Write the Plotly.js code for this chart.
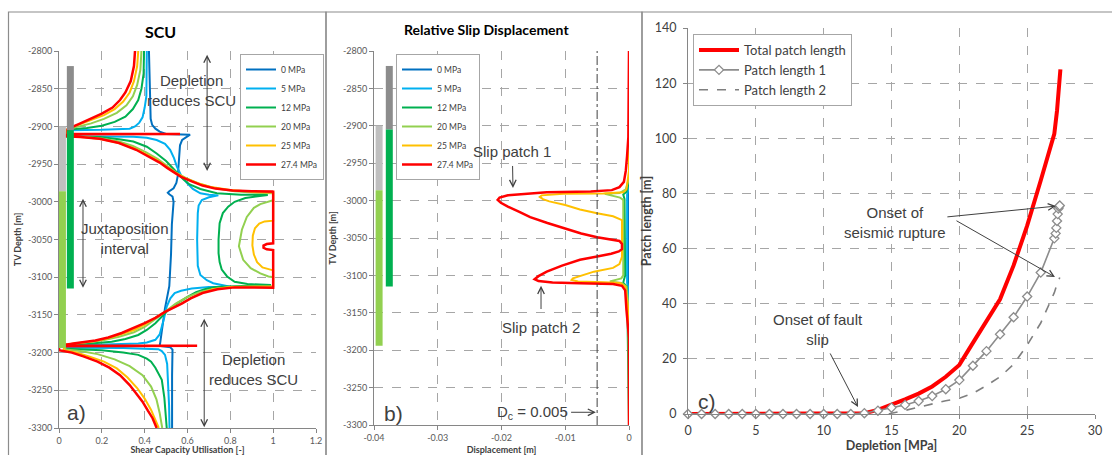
<!DOCTYPE html>
<html>
<head>
<meta charset="utf-8">
<script src="https://cdn.plot.ly/plotly-3.0.1.min.js"></script>
<style>
  html, body { margin: 0; padding: 0; background: #ffffff; }
  #chart { width: 1112px; height: 455px; }
</style>
</head>
<body>
<div id="chart"></div>
<script>
// ---------- shared tick labels ----------
const depthTicks = [-2800, -2850, -2900, -2950, -3000, -3050, -3100, -3150, -3200, -3250, -3300];
const depthLabels = ['-2800', '-2850', '-2900', '-2950', '-3000', '-3050', '-3100', '-3150', '-3200', '-3250', '-3300'];
const slipTicks = [-0.04, -0.03, -0.02, -0.01, 0];
const slipLabels = ['-0.04', '-0.03', '-0.02', '-0.01', '0'];

const depletionSteps = ['0 MPa', '5 MPa', '12 MPa', '20 MPa', '25 MPa', '27.4 MPa'];

// ---------- a) shear capacity utilisation, [depth m, SCU] ----------
const scu0 = [
  [-2800,0.42],[-2880,0.425],[-2890,0.428],[-2898,0.435],[-2903,0.45],[-2907,0.47],[-2910,0.5],[-2911,0.612],
  [-2913,0.6],[-2918,0.575],[-2925,0.565],[-2945,0.56],[-2965,0.555],[-2975,0.548],[-2982,0.535],[-2986,0.515],
  [-2988,0.508],[-2990,0.515],[-2993,0.53],[-3000,0.535],[-3030,0.527],[-3070,0.523],[-3097,0.519],[-3112,0.515],
  [-3141,0.495],[-3165,0.485],[-3188,0.472],[-3191,0.47],[-3193,0.52],[-3196,0.53],[-3230,0.528],[-3300,0.528]
];
const scu5 = [
  [-2800,0.41],[-2840,0.41],[-2860,0.408],[-2875,0.4],[-2888,0.39],[-2895,0.375],[-2900,0.355],[-2903,0.33],[-2904.5,0.2],[-2905,0.05],
  [-2913,0.03],[-2913.3,0.2],[-2913.6,0.347],[-2915,0.41],[-2918,0.456],[-2923,0.495],[-2931,0.519],[-2942,0.537],[-2953,0.55],
  [-2965,0.57],[-2975,0.597],[-2983,0.625],[-2988.7,0.66],[-2990.5,0.7],[-2991.5,0.744],
  [-2994,0.7],[-2997.6,0.667],[-3005,0.652],[-3015,0.648],[-3050,0.645],[-3085,0.648],[-3097,0.66],[-3104,0.69],[-3108,0.72],[-3111,0.77],[-3112.6,0.8],
  [-3113,0.7],[-3115,0.62],[-3118,0.57],[-3121,0.54],[-3128,0.52],[-3139,0.503],[-3155,0.49],[-3166,0.48],[-3176,0.47],[-3183,0.45],
  [-3186.5,0.41],[-3188,0.37],[-3189.5,0.25],[-3190,0.137],[-3190.5,0.03],
  [-3193.5,0.03],[-3194,0.3],[-3194.5,0.4],[-3195.5,0.464],[-3198,0.48],[-3203,0.495],[-3215,0.505],[-3240,0.51],[-3270,0.514],[-3300,0.516]
];
const scu12 = [
  [-2800,0.397],[-2830,0.395],[-2850,0.385],[-2865,0.37],[-2877,0.345],[-2887,0.31],[-2894,0.26],[-2899,0.2],[-2902,0.13],[-2904,0.05],
  [-2913,0.03],[-2914,0.19],[-2917,0.28],[-2920,0.347],[-2927,0.41],[-2936,0.456],[-2946,0.5],[-2955,0.53],[-2962,0.55],[-2970,0.58],
  [-2977,0.61],[-2983,0.66],[-2988.7,0.737],[-2990.5,0.85],[-2991,0.975],
  [-2993,0.92],[-2995,0.87],[-3000,0.82],[-3006.5,0.79],[-3015,0.765],[-3028.5,0.75],[-3050,0.745],[-3068,0.745],[-3080,0.75],
  [-3090,0.76],[-3099,0.785],[-3106,0.82],[-3109,0.88],[-3110,0.947],[-3110.5,0.99],
  [-3111,0.93],[-3111.6,0.82],[-3113,0.73],[-3116,0.68],[-3120,0.64],[-3126,0.6],[-3134,0.555],[-3143.5,0.51],[-3152,0.48],
  [-3161,0.45],[-3170,0.41],[-3176.6,0.37],[-3182,0.31],[-3185.5,0.246],[-3188,0.15],[-3189,0.07],[-3189.5,0.03],
  [-3195,0.03],[-3197,0.2],[-3200,0.3],[-3203,0.37],[-3208,0.41],[-3212,0.43],[-3220,0.45],[-3236,0.48],[-3260,0.492],[-3280,0.497],[-3300,0.503]
];
const scu20 = [
  [-2800,0.385],[-2825,0.38],[-2845,0.365],[-2860,0.345],[-2872,0.315],[-2882,0.27],[-2890,0.21],[-2896,0.15],[-2901,0.08],[-2904,0.04],
  [-2913,0.03],[-2914,0.12],[-2916,0.2],[-2920,0.28],[-2926,0.345],[-2934,0.405],[-2943,0.46],[-2952,0.505],[-2961,0.545],
  [-2969,0.595],[-2976,0.655],[-2982,0.73],[-2986,0.82],[-2988,0.92],[-2988.5,1.0],
  [-2998,1.0],[-3000,0.98],[-3003,0.94],[-3008,0.91],[-3020,0.877],[-3037,0.854],[-3059,0.84],[-3077,0.86],[-3088,0.895],
  [-3095,0.94],[-3099,0.978],[-3100,1.0],
  [-3112.5,1.0],[-3112.5,0.9],[-3113,0.8],[-3115.5,0.72],[-3119.5,0.66],[-3126,0.6],[-3135,0.545],[-3145,0.5],[-3155,0.45],
  [-3166,0.4],[-3173,0.35],[-3179,0.28],[-3184,0.2],[-3187.5,0.1],[-3189.5,0.03],
  [-3196,0.03],[-3198,0.1],[-3202,0.18],[-3209,0.26],[-3218,0.33],[-3230,0.39],[-3245,0.43],[-3262,0.455],[-3280,0.47],[-3300,0.482]
];
const scu25 = [
  [-2800,0.37],[-2820,0.365],[-2840,0.35],[-2855,0.33],[-2867,0.3],[-2877,0.26],[-2885,0.21],[-2892,0.15],[-2898,0.09],[-2903,0.04],
  [-2913,0.03],[-2914.5,0.12],[-2917,0.2],[-2922,0.28],[-2929,0.35],[-2938,0.415],[-2946,0.465],[-2954,0.505],[-2961,0.54],
  [-2968,0.585],[-2975,0.645],[-2980.5,0.71],[-2984.5,0.8],[-2986.8,0.9],[-2987.5,1.0],
  [-3025,1.0],[-3026,0.96],[-3029,0.935],[-3035,0.915],[-3045,0.905],[-3058,0.903],[-3070,0.91],[-3080,0.925],[-3087,0.95],
  [-3090,0.98],[-3091,1.0],
  [-3112,1.0],[-3112,0.9],[-3113,0.8],[-3116,0.72],[-3120.5,0.67],[-3127,0.62],[-3135,0.57],[-3145,0.5],[-3154,0.45],
  [-3163,0.4],[-3170,0.35],[-3176,0.29],[-3181,0.23],[-3185,0.16],[-3188,0.08],[-3189.5,0.03],
  [-3197,0.02],[-3200,0.08],[-3205,0.14],[-3212,0.21],[-3221,0.27],[-3233,0.32],[-3247,0.365],[-3261,0.4],[-3276,0.43],[-3290,0.452],[-3300,0.466]
];
const scu274 = [
  [-2800,0.355],[-2820,0.35],[-2840,0.335],[-2855,0.31],[-2865,0.285],[-2875,0.25],[-2883,0.2],[-2890,0.15],[-2896,0.1],[-2901,0.06],[-2904,0.04],
  [-2910,0.04],[-2910,0.565],[-2910.5,0.04],
  [-2913,0.03],[-2914,0.1],[-2916.5,0.19],[-2922,0.28],[-2931,0.36],[-2940,0.42],[-2948,0.47],[-2955,0.505],[-2961,0.535],
  [-2967,0.57],[-2973,0.62],[-2978.5,0.67],[-2982.5,0.73],[-2985,0.81],[-2986,0.9],[-2986.5,1.0],
  [-2985,1.0],[-3055,1.0],[-3056,0.97],[-3058,0.955],[-3061,0.955],[-3063,0.97],[-3064,1.0],
  [-3114,1.0],[-3113.5,0.9],[-3113.5,0.82],[-3116,0.74],[-3121,0.67],[-3128,0.615],[-3135,0.573],[-3146,0.495],[-3154,0.45],
  [-3161,0.4],[-3168,0.345],[-3174,0.293],[-3180,0.23],[-3184,0.17],[-3187.5,0.075],[-3189,0.03],
  [-3191,0.0],[-3191,0.645],[-3191.5,0.0],
  [-3197,0.0],[-3200,0.06],[-3205,0.114],[-3212,0.18],[-3220,0.235],[-3230,0.285],[-3243,0.33],[-3255,0.365],[-3265,0.39],
  [-3277,0.415],[-3287,0.437],[-3300,0.456]
];

// ---------- b) relative slip displacement, [depth m, slip m] ----------
const slip0 = [[-2800,0],[-3300,0]];
const slip5 = [[-2800,0],[-2980,0],[-2992,-0.0003],[-3110,-0.0003],[-3120,0],[-3300,0]];
const slip12 = [[-2800,0],[-2975,0],[-2988,-0.0004],[-2992,-0.0009],[-2998,-0.0007],[-3100,-0.0006],[-3106,-0.0008],
  [-3110,-0.0009],[-3115,-0.0003],[-3300,0]];
const slip20 = [[-2800,0],[-2970,0],[-2985,-0.0005],[-2990,-0.0015],[-2991,-0.0038],[-2993,-0.003],[-2996,-0.0014],
  [-2999,-0.0009],[-3050,-0.0009],[-3100,-0.0009],[-3104,-0.0012],[-3107,-0.0025],[-3108,-0.003],[-3110,-0.0012],
  [-3115,-0.0004],[-3140,-0.0001],[-3300,0]];
const slip25 = [[-2800,0],[-2960,0],[-2985,-0.0004],[-2989,-0.0009],[-2990.5,-0.004],[-2991,-0.0103],[-2993,-0.0137],
  [-2995,-0.014],[-2998,-0.0135],[-3001,-0.0125],[-3006,-0.01],[-3012,-0.0077],[-3017,-0.005],[-3021,-0.0025],
  [-3026,-0.0011],[-3050,-0.0011],[-3075,-0.0011],[-3085,-0.0015],[-3090,-0.0025],[-3095,-0.0055],[-3100,-0.0075],
  [-3104,-0.0088],[-3106,-0.009],[-3108,-0.008],[-3109,-0.004],[-3110,-0.0014],[-3115,-0.0006],[-3140,-0.0002],
  [-3160,0],[-3300,0]];
const slip274 = [[-2800,0],[-2905,0],[-2915,-0.0001],[-2940,-0.0003],[-2960,-0.0005],[-2975,-0.0008],[-2982,-0.0015],
  [-2986,-0.0027],[-2988,-0.006],[-2989,-0.0129],[-2991,-0.0165],[-2993,-0.019],[-2996,-0.0203],[-2999,-0.0206],
  [-3003,-0.0201],[-3008,-0.019],[-3015,-0.0172],[-3022,-0.0155],[-3030,-0.0128],[-3037,-0.0103],[-3044,-0.0075],
  [-3049,-0.005],[-3052,-0.003],[-3054,-0.0015],[-3058,-0.0011],[-3065,-0.0011],[-3068,-0.0016],[-3071,-0.0028],
  [-3075,-0.0052],[-3079,-0.0077],[-3087,-0.0105],[-3095,-0.0129],[-3101,-0.0142],[-3105,-0.0148],[-3107.5,-0.0142],
  [-3109.5,-0.012],[-3110.5,-0.0077],[-3111.5,-0.0025],[-3114,-0.0011],[-3120,-0.0006],[-3146,-0.0004],[-3165,-0.0002],
  [-3184,0],[-3300,0]];
const criticalSlip = 0.005;

// ---------- stratigraphic columns (depth intervals, m) ----------
const footwallSeal = [-2820, -2905];
const footwallReservoir = [-2905, -3115];
const hangingwallSeal = [-2900, -2986];
const hangingwallReservoir = [-2986, -3194];

// ---------- c) patch lengths vs depletion ----------
const depletionTotal = [0, 13, 14, 15, 16, 17, 18, 19, 20, 21, 22, 23, 24, 25, 26, 27, 27.2, 27.3, 27.45];
const totalLength = [0, 0.3, 1.5, 3.3, 5.3, 7.4, 10, 13.5, 17.8, 25.8, 33.4, 41.6, 53.9, 68.3, 84.7, 101.6, 110, 116.5, 125];
const depletionP1 = [0, 1, 2, 3, 4, 5, 6, 7, 8, 9, 10, 11, 12, 13, 14, 15, 16, 17, 18, 19, 20, 21, 22, 23, 24, 25, 26, 27,
  27.1, 27.15, 27.2, 27.25, 27.3, 27.35, 27.4];
const patchLength1 = [0, 0, 0, 0, 0, 0, 0, 0, 0, 0, 0, 0, 0, 0.3, 1.2, 2.3, 3.3, 4.7, 6.5, 9.0, 12.3, 17.5, 22.8, 28.9, 35.1,
  42.6, 51.3, 63.7, 65.5, 67.5, 70, 72.5, 74.5, 75.2, 75.6];
const depletionP2 = [14.8, 15, 16, 17, 18, 19, 20, 21, 22, 23, 24, 25, 26, 27, 27.2, 27.4];
const patchLength2 = [0, 0.3, 1.3, 2.5, 3.8, 4.8, 5.7, 7.5, 10.3, 13.5, 18, 25, 33, 44, 47, 49.5];

// ---------- drawing ----------
const W = 1112, H = 455;
const fx = p => p / W;
const fy = p => 1 - p / H;
const colors = ['#0070C0', '#00B0F0', '#00B050', '#92D050', '#FFC000', '#FF0000'];
const uiFont = 'Lato, "Open Sans", sans-serif';
const noteFontFamily = '"Liberation Sans", Arial, sans-serif';
const ink = '#404040';

const cols = pairs => ({ x: pairs.map(p => p[1]), y: pairs.map(p => p[0]) });

const traces = [];
[scu0, scu5, scu12, scu20, scu25, scu274].forEach((s, i) => {
  const c = cols(s);
  traces.push({
    type: 'scatter', mode: 'lines', x: c.x, y: c.y, xaxis: 'x', yaxis: 'y',
    name: depletionSteps[i], legend: 'legend',
    line: { color: colors[i], width: i === 5 ? 2.5 : 2 }, hoverinfo: 'skip'
  });
});
[slip0, slip5, slip12, slip20, slip25, slip274].forEach((s, i) => {
  const c = cols(s);
  traces.push({
    type: 'scatter', mode: 'lines', x: c.x, y: c.y, xaxis: 'x2', yaxis: 'y2',
    name: depletionSteps[i], legend: 'legend2',
    line: { color: colors[i], width: i === 5 ? 2.5 : 2 }, hoverinfo: 'skip'
  });
});

// stratigraphic columns drawn over the profiles
function column(xa, ya, xpos, interval, color) {
  traces.push({
    type: 'scatter', mode: 'lines', x: [xpos, xpos], y: interval, xaxis: xa, yaxis: ya,
    showlegend: false, line: { color: color, width: 7 }, hoverinfo: 'skip'
  });
}
column('x', 'y', 0.016, hangingwallSeal, '#bfbfbf');
column('x', 'y', 0.016, hangingwallReservoir, '#92D050');
column('x', 'y', 0.053, footwallSeal, '#8c8c8c');
column('x', 'y', 0.053, footwallReservoir, '#00B050');
column('x2', 'y2', -0.0392, hangingwallSeal, '#bfbfbf');
column('x2', 'y2', -0.0392, hangingwallReservoir, '#92D050');
column('x2', 'y2', -0.0376, footwallSeal, '#8c8c8c');
column('x2', 'y2', -0.0376, footwallReservoir, '#00B050');

// panel c
traces.push({
  type: 'scatter', mode: 'lines', x: depletionP2, y: patchLength2, xaxis: 'x3', yaxis: 'y3',
  name: 'Patch length 2', legend: 'legend3', legendgroup: 'p2', legendrank: 3,
  line: { color: '#7f7f7f', width: 1.6, dash: 'dash' }, hoverinfo: 'skip'
});
traces.push({
  type: 'scatter', mode: 'lines', x: depletionTotal, y: totalLength, xaxis: 'x3', yaxis: 'y3',
  name: 'Total patch length', legend: 'legend3', legendgroup: 'tot', legendrank: 1,
  line: { color: '#FF0000', width: 4 }, hoverinfo: 'skip'
});
traces.push({
  type: 'scatter', mode: 'lines+markers', x: depletionP1, y: patchLength1, xaxis: 'x3', yaxis: 'y3',
  name: 'Patch length 1', legend: 'legend3', legendgroup: 'p1', legendrank: 2, cliponaxis: false,
  line: { color: '#8c8c8c', width: 1.6 },
  marker: { symbol: 'diamond', size: 7, color: '#ffffff', line: { color: '#8c8c8c', width: 1.3 } },
  hoverinfo: 'skip'
});

const axisBase = {
  showline: true, linecolor: '#868686', linewidth: 1, mirror: false,
  ticks: 'outside', ticklen: 4, tickcolor: '#868686', tickwidth: 1,
  showgrid: true, gridcolor: '#a6a6a6', griddash: 'dash', gridwidth: 1, zeroline: false,
  tickfont: { family: uiFont, size: 9, color: '#595959' }, fixedrange: true
};
const smallTitle = t => ({ text: '<b>' + t + '</b>', font: { family: uiFont, size: 9, color: '#404040' } });
const bigTitle = t => ({ text: '<b>' + t + '</b>', font: { family: uiFont, size: 12.5, color: '#404040' } });

const layout = {
  width: W, height: H, margin: { l: 0, r: 0, t: 0, b: 0 },
  paper_bgcolor: '#ffffff', plot_bgcolor: '#ffffff', hovermode: false,
  xaxis: Object.assign({}, axisBase, {
    domain: [fx(59), fx(316)], anchor: 'y', range: [0, 1.2], tick0: 0, dtick: 0.2,
    title: Object.assign(smallTitle('Shear Capacity Utilisation [-]'), { standoff: 10 })
  }),
  yaxis: Object.assign({}, axisBase, {
    domain: [fy(428), fy(51)], anchor: 'x', range: [-3300, -2800],
    tickvals: depthTicks, ticktext: depthLabels,
    title: Object.assign(smallTitle('TV Depth [m]'), { standoff: 4 })
  }),
  xaxis2: Object.assign({}, axisBase, {
    domain: [fx(374), fx(629)], anchor: 'y2', range: [-0.04, 0],
    tickvals: slipTicks, ticktext: slipLabels,
    title: Object.assign(smallTitle('Displacement [m]'), { standoff: 8 })
  }),
  yaxis2: Object.assign({}, axisBase, {
    domain: [fy(425), fy(51)], anchor: 'x2', range: [-3300, -2800],
    tickvals: depthTicks, ticktext: depthLabels,
    title: Object.assign(smallTitle('TV Depth [m]'), { standoff: 4 })
  }),
  xaxis3: Object.assign({}, axisBase, {
    domain: [fx(688), fx(1095)], anchor: 'y3', range: [0, 30], tick0: 0, dtick: 5,
    tickfont: { family: uiFont, size: 12.5, color: '#404040' }, ticklabelstandoff: 1,
    title: Object.assign(bigTitle('Depletion [MPa]'), { standoff: 4 })
  }),
  yaxis3: Object.assign({}, axisBase, {
    domain: [fy(414), fy(28)], anchor: 'x3', range: [0, 140], tick0: 0, dtick: 20,
    tickfont: { family: uiFont, size: 12.5, color: '#404040' }, ticklabelstandoff: 4,
    title: Object.assign(bigTitle('Patch length [m]'), { standoff: 0 })
  }),
  legend: {
    x: fx(240), y: fy(54), xanchor: 'left', yanchor: 'top',
    bgcolor: '#ffffff', bordercolor: '#a6a6a6', borderwidth: 1,
    font: { family: uiFont, size: 8.5, color: '#404040' }, itemwidth: 30, tracegroupgap: 0
  },
  legend2: {
    x: fx(396), y: fy(54), xanchor: 'left', yanchor: 'top',
    bgcolor: '#ffffff', bordercolor: '#a6a6a6', borderwidth: 1,
    font: { family: uiFont, size: 8.5, color: '#404040' }, itemwidth: 30, tracegroupgap: 0
  },
  legend3: {
    x: fx(693), y: fy(34), xanchor: 'left', yanchor: 'top',
    bgcolor: '#ffffff', bordercolor: '#a6a6a6', borderwidth: 1,
    font: { family: uiFont, size: 13, color: '#404040' }, itemwidth: 40, tracegroupgap: 6,
    traceorder: 'normal'
  },
  shapes: [
    // panel frames
    { type: 'rect', xref: 'paper', yref: 'paper', x0: fx(8.5), x1: fx(326), y0: -0.05, y1: fy(12), line: { color: '#8c8c8c', width: 1.2 } },
    { type: 'rect', xref: 'paper', yref: 'paper', x0: fx(326), x1: fx(642), y0: -0.05, y1: fy(12), line: { color: '#8c8c8c', width: 1.2 } },
    { type: 'rect', xref: 'paper', yref: 'paper', x0: fx(642), x1: fx(1115), y0: -0.05, y1: fy(12), line: { color: '#8c8c8c', width: 1.2 } },
    // critical slip distance
    { type: 'line', xref: 'x2', yref: 'y2', x0: -criticalSlip, x1: -criticalSlip, y0: -3300, y1: -2800,
      line: { color: '#404040', width: 1, dash: 'dashdot' } }
  ],
  annotations: []
};

const noteFont = { family: noteFontFamily, size: 15, color: ink };
function note(xr, yr, x, y, text, size) {
  layout.annotations.push({ xref: xr, yref: yr, x: x, y: y, text: text, showarrow: false,
    xanchor: 'center', yanchor: 'middle',
    font: Object.assign({}, noteFont, size ? { size: size } : {}), align: 'center' });
}
// text placed at the arrow tail, arrow pointing at (x1, y1)
function labelArrow(xr, yr, tx, ty, x1, y1, text, gap) {
  layout.annotations.push({ xref: xr, yref: yr, axref: xr, ayref: yr, x: x1, y: y1, ax: tx, ay: ty,
    text: text, font: noteFont, align: 'center', showarrow: true, arrowhead: 5, arrowsize: 1.3,
    arrowwidth: 1, arrowcolor: ink, standoff: 0, startstandoff: gap || 0 });
}
function arrow(xr, yr, x0, y0, x1, y1, both) {
  layout.annotations.push({ xref: xr, yref: yr, axref: xr, ayref: yr, x: x1, y: y1, ax: x0, ay: y0,
    text: '', showarrow: true, arrowhead: 5, startarrowhead: 5, arrowside: both ? 'end+start' : 'end',
    arrowsize: 1.3, startarrowsize: 1.3, arrowwidth: 1, arrowcolor: ink, standoff: 0, startstandoff: 0 });
}

// panel titles
layout.annotations.push({ xref: 'paper', yref: 'paper', x: fx(160), y: fy(32), text: '<b>SCU</b>', showarrow: false,
  xanchor: 'center', yanchor: 'middle', font: { family: uiFont, size: 16, color: '#000000' } });
layout.annotations.push({ xref: 'paper', yref: 'paper', x: fx(486), y: fy(30), text: '<b>Relative Slip Displacement</b>', showarrow: false,
  xanchor: 'center', yanchor: 'middle', font: { family: uiFont, size: 14, color: '#000000' } });

// a)
note('x', 'y', 0.62, -2853, 'Depletion<br>reduces SCU');
arrow('x', 'y', 0.6916, -2803, 0.6916, -2959, true);
note('x', 'y', 0.31, -3049, 'Juxtaposition<br>interval');
arrow('x', 'y', 0.112, -2994, 0.112, -3114, true);
note('x', 'y', 0.906, -3223, 'Depletion<br>reduces SCU');
arrow('x', 'y', 0.678, -3153, 0.678, -3299, true);
note('x', 'y', 0.084, -3280, 'a)', 21);

// b)
labelArrow('x2', 'y2', -0.0183, -2935, -0.0182, -2983, 'Slip patch 1', 4);
labelArrow('x2', 'y2', -0.0138, -3169, -0.0138, -3114, 'Slip patch 2', 8);
labelArrow('x2', 'y2', -0.0152, -3283, -criticalSlip - 0.0002, -3283, 'D<sub>c</sub> = 0.005', 2);
note('x2', 'y2', -0.037, -3284, 'b)', 21);

// c)
labelArrow('x3', 'y3', 9.58, 30.5, 12.53, 2.5, 'Onset of fault<br>slip', 4);
labelArrow('x3', 'y3', 15.25, 69.6, 27.12, 75.4, 'Onset of<br>seismic rupture', 0);
arrow('x3', 'y3', 19.68, 70.4, 27.05, 49.7, false);
note('x3', 'y3', 1.4, 4.7, 'c)', 21);

Plotly.newPlot('chart', traces, layout, { displayModeBar: false, staticPlot: true });
</script>
</body>
</html>
